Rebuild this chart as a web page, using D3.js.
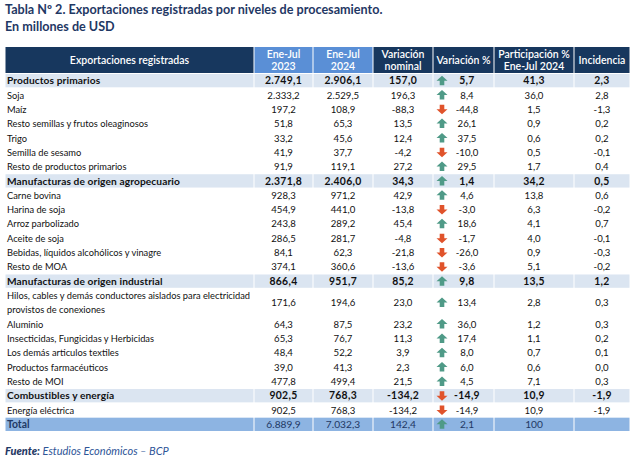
<!DOCTYPE html>
<html><head><meta charset="utf-8">
<script src="https://cdn.jsdelivr.net/npm/d3@7"></script>
<style>body{margin:0;background:#fff}svg{display:block}</style>
</head><body>
<svg id="c" width="635" height="459"></svg>
<script>
const titleLines = ["Tabla Nº 2. Exportaciones registradas por niveles de procesamiento.", "En millones de USD"];
const headers = [["Exportaciones registradas"], ["Ene-Jul", "2023"], ["Ene-Jul", "2024"], ["Variación", "nominal"], ["Variación %"], ["Participación %", "Ene-Jul 2024"], ["Incidencia"]];
const labels = [
  ["Productos primarios"], ["Soja"], ["Maíz"], ["Resto semillas y frutos oleaginosos"], ["Trigo"], ["Semilla de sesamo"], ["Resto de productos primarios"],
  ["Manufacturas de origen agropecuario"], ["Carne bovina"], ["Harina de soja"], ["Arroz parbolizado"], ["Aceite de soja"], ["Bebidas, líquidos alcohólicos y vinagre"], ["Resto de MOA"],
  ["Manufacturas de origen industrial"], ["Hilos, cables y demás conductores aislados para electricidad", "provistos de conexiones"], ["Aluminio"], ["Insecticidas, Fungicidas y Herbicidas"], ["Los demás articulos textiles"], ["Productos farmacéuticos"], ["Resto de MOI"],
  ["Combustibles y energía"], ["Energía eléctrica"], ["Total"]
];
const rowTypes = ["section","item","item","item","item","item","item","section","item","item","item","item","item","item","section","item","item","item","item","item","item","section","item","total"];
const v2023 = [2749.1, 2333.2, 197.2, 51.8, 33.2, 41.9, 91.9, 2371.8, 928.3, 454.9, 243.8, 286.5, 84.1, 374.1, 866.4, 171.6, 64.3, 65.3, 48.4, 39.0, 477.8, 902.5, 902.5, 6889.9];
const v2024 = [2906.1, 2529.5, 108.9, 65.3, 45.6, 37.7, 119.1, 2406.0, 971.2, 441.0, 289.2, 281.7, 62.3, 360.6, 951.7, 194.6, 87.5, 76.7, 52.2, 41.3, 499.4, 768.3, 768.3, 7032.3];
const varNominal = [157.0, 196.3, -88.3, 13.5, 12.4, -4.2, 27.2, 34.3, 42.9, -13.8, 45.4, -4.8, -21.8, -13.6, 85.2, 23.0, 23.2, 11.3, 3.9, 2.3, 21.5, -134.2, -134.2, 142.4];
const varPct = [5.7, 8.4, -44.8, 26.1, 37.5, -10.0, 29.5, 1.4, 4.6, -3.0, 18.6, -1.7, -26.0, -3.6, 9.8, 13.4, 36.0, 17.4, 8.0, 6.0, 4.5, -14.9, -14.9, 2.1];
const participacion = [41.3, 36.0, 1.5, 0.9, 0.6, 0.5, 1.7, 34.2, 13.8, 6.3, 4.1, 4.0, 0.9, 5.1, 13.5, 2.8, 1.2, 1.1, 0.7, 0.6, 7.1, 10.9, 10.9, 100];
const incidencia = [2.3, 2.8, -1.3, 0.2, 0.2, -0.1, 0.4, 0.5, 0.6, -0.2, 0.7, -0.1, -0.3, -0.2, 1.2, 0.3, 0.3, 0.2, 0.1, 0.0, 0.3, -1.9, -1.9, null];
const sourceBold = "Fuente:";
const sourceText = " Estudios Económicos – BCP";

const loc = d3.formatLocale({decimal: ",", thousands: ".", grouping: [3], currency: ["", ""], minus: "-"});
const f1 = loc.format(",.1f");
const fmt = v => v == null ? "" : (v === 100 ? "100" : f1(v));

const svg = d3.select("#c");
const navy = "#1f3864", hdrDark = "#17375e", hdrBlue = "#5a8fd6", secBg = "#dbe5f1", totBg = "#8db4e2";
const bodyFont = "Lato, 'Open Sans', sans-serif";

// title
svg.append("g").selectAll("text").data(titleLines).join("text")
  .attr("x", 5).attr("y", (d, i) => 14 + i * 17)
  .attr("font-family", "Lato, sans-serif").attr("font-weight", 700).attr("font-size", 12.6)
  .attr("fill", navy).text(d => d);

// columns
const colEdges = [5, 254, 313, 373, 433, 494, 574, 630];
const cols = d3.range(7).map(i => ({x0: colEdges[i], x1: colEdges[i + 1]}));
const headerTop = 47, headerBottom = 73;

// row layout via unit scale
const units = labels.map(l => l.length);
const cum = [0];
units.forEach(u => cum.push(cum[cum.length - 1] + u));
const y = d3.scaleLinear().domain([0, cum[cum.length - 1]]).range([headerBottom + 0.5, 431.5]);

// header
const hg = svg.append("g");
cols.forEach((c, i) => {
  hg.append("rect").attr("x", c.x0 + 0.5).attr("y", headerTop).attr("width", c.x1 - c.x0 - 1).attr("height", headerBottom - headerTop)
    .attr("fill", (i === 1 || i === 2) ? hdrBlue : hdrDark);
  const lines = headers[i];
  const cx = (c.x0 + c.x1) / 2, cy = (headerTop + headerBottom) / 2;
  lines.forEach((t, j) => {
    hg.append("text").attr("x", cx).attr("y", cy + (j - (lines.length - 1) / 2) * 12 + 3.8)
      .attr("text-anchor", "middle").attr("font-family", bodyFont).attr("font-size", 10.5)
      .attr("font-weight", 600).attr("fill", "#fff").text(t);
  });
});

// rows
const rg = svg.append("g");
const colVals = [v2023, v2024, varNominal, varPct, participacion, incidencia];
labels.forEach((lab, r) => {
  const top = y(cum[r]), bot = y(cum[r + 1]);
  const type = rowTypes[r];
  const bold = type === "section";
  const isTot = type === "total";
  if (type !== "item") {
    cols.forEach(c => {
      rg.append("rect").attr("x", c.x0 + 0.5).attr("y", top + 0.5).attr("width", c.x1 - c.x0 - 1).attr("height", bot - top - 1)
        .attr("fill", isTot ? totBg : secBg);
    });
  }
  const cy = (top + bot) / 2;
  const fill = isTot ? navy : "#111";
  lab.forEach((t, j) => {
    rg.append("text").attr("x", 7).attr("y", cy + (j - (lab.length - 1) / 2) * 14.3 + 3.6)
      .attr("font-family", bodyFont).attr("font-size", bold ? 10.2 : (isTot ? 10.4 : 9.3))
      .attr("font-weight", (bold || isTot) ? 700 : 400)
      .attr("letter-spacing", bold ? 0.1 : 0)
      .attr("fill", fill).text(t);
  });
  colVals.forEach((arr, k) => {
    const c = cols[k + 1];
    let cx = (c.x0 + c.x1) / 2;
    if (k === 3) cx = c.x0 + 34;
    rg.append("text").attr("x", cx).attr("y", cy + 3.6).attr("text-anchor", "middle")
      .attr("font-family", bodyFont).attr("font-size", bold ? 10.4 : (isTot ? 10.2 : 9.6))
      .attr("font-weight", bold ? 700 : 400).attr("letter-spacing", bold ? 0.3 : 0)
      .attr("fill", fill).text(fmt(arr[r]));
  });
  // arrow
  const up = varPct[r] >= 0;
  const ax = cols[4].x0 + 9, s = up ? -1 : 1;
  const p = d3.path();
  p.moveTo(ax, cy + s * 5);
  p.lineTo(ax + 5.5, cy + s * 0);
  p.lineTo(ax + 2.3, cy + s * 0);
  p.lineTo(ax + 2.3, cy - s * 4.5);
  p.lineTo(ax - 2.3, cy - s * 4.5);
  p.lineTo(ax - 2.3, cy + s * 0);
  p.lineTo(ax - 5.5, cy + s * 0);
  p.closePath();
  rg.append("path").attr("d", p.toString()).attr("fill", up ? "#4f9a87" : "#e0532b");
});

// source
const st = svg.append("text").attr("x", 5).attr("y", 455).attr("font-family", "Lato, sans-serif").attr("font-size", 11).attr("font-style", "italic");
st.append("tspan").attr("font-weight", 900).attr("fill", "#1f3864").text(sourceBold);
st.append("tspan").attr("fill", "#2e5597").text(sourceText);
</script>
</body></html>
